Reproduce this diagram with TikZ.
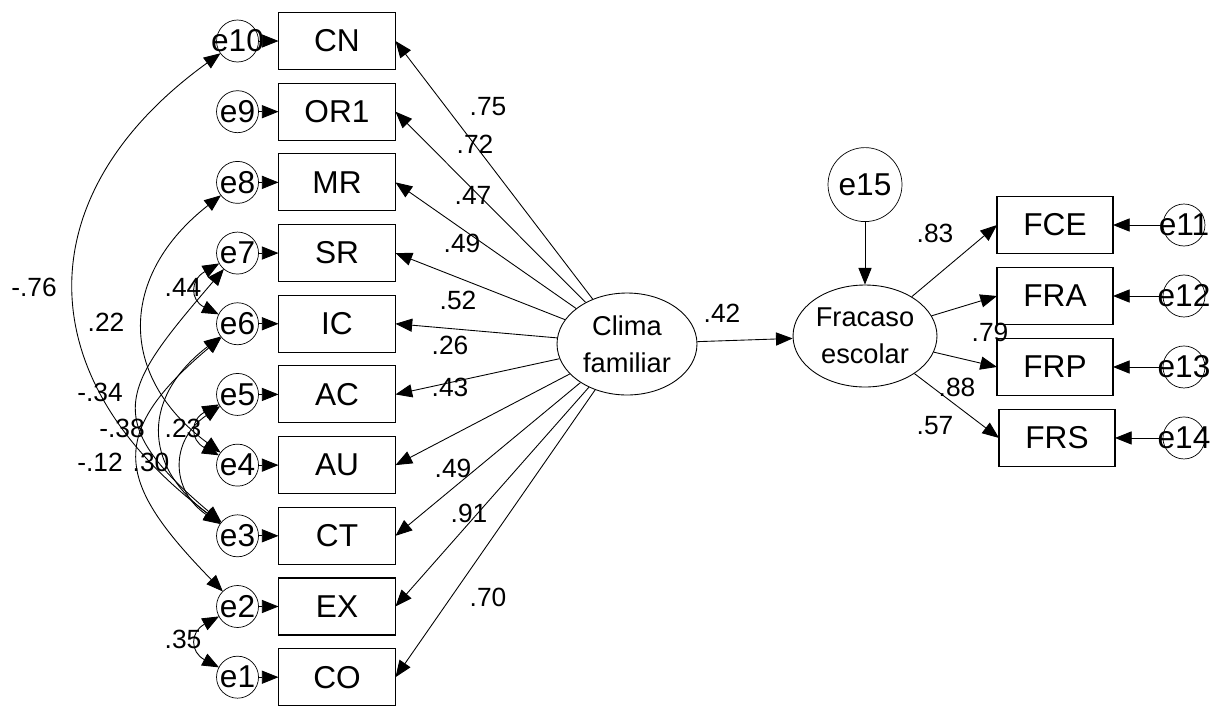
\documentclass[tikz,border=0pt]{standalone}
\usepackage{fontspec}
\setmainfont{Liberation Sans}
\usetikzlibrary{positioning,shapes.geometric,arrows.meta}
\tikzstyle{block} = [rectangle, draw, line width=0.6pt, minimum width=2.34cm,
  minimum height=1.14cm, inner sep=0pt, outer sep=0pt, font=\fontsize{18}{20}\selectfont]
\tikzstyle{error} = [circle, draw, line width=0.4pt, minimum size=0.84cm,
  inner sep=0pt, outer sep=0pt]
\tikzstyle{latent} = [ellipse, draw, line width=0.5pt, inner sep=0pt,
  align=center, font=\fontsize{15.5}{21}\selectfont]
\tikzstyle{coef} = [inner sep=0pt, font=\fontsize{15}{17}\selectfont]
\tikzstyle{line} = [draw, line width=0.5pt, -{Triangle[length=9.5pt,width=7.5pt]}]
\tikzstyle{cov} = [draw, line width=0.5pt,
  {Triangle[length=9.5pt,width=7.5pt]}-{Triangle[length=9.5pt,width=7.5pt]}]
\begin{document}
\begin{tikzpicture}[x=0.02cm, y=-0.02cm,
  every label/.style={inner sep=0pt, font=\fontsize{18}{20}\selectfont}]

  \useasboundingbox (0,0) rectangle (1230,707);

  %%%%%%%%%%%%%%%%%%%%%%%%%%%%%%%%%%%%%%%%%%%%%%%%%%%%%%%%%%%%%%
  %                   CLIMA FAMILIAR                           %
  %%%%%%%%%%%%%%%%%%%%%%%%%%%%%%%%%%%%%%%%%%%%%%%%%%%%%%%%%%%%%%

  \node [block] at (337,41) (cn) {CN};
  \node [block, below = 0.274cm of cn] (or1) {OR1};
  \node [block, below = 0.274cm of or1] (mr) {MR};
  \node [block, below = 0.274cm of mr] (sr) {SR};
  \node [block, below = 0.274cm of sr] (ic) {IC};
  \node [block, below = 0.274cm of ic] (ac) {AC};
  \node [block, below = 0.274cm of ac] (au) {AU};
  \node [block, below = 0.274cm of au] (ct) {CT};
  \node [block, below = 0.274cm of ct] (ex) {EX};
  \node [block, below = 0.274cm of ex] (co) {CO};

  \node [error, left = 0.4cm of cn, label={center:e10}] (e10) {};
  \node [error, left = 0.4cm of or1, label={center:e9}] (e9) {};
  \node [error, left = 0.4cm of mr, label={center:e8}] (e8) {};
  \node [error, left = 0.4cm of sr, label={center:e7}] (e7) {};
  \node [error, left = 0.4cm of ic, label={center:e6}] (e6) {};
  \node [error, left = 0.4cm of ac, label={center:e5}] (e5) {};
  \node [error, left = 0.4cm of au, label={center:e4}] (e4) {};
  \node [error, left = 0.4cm of ct, label={center:e3}] (e3) {};
  \node [error, left = 0.4cm of ex, label={center:e2}] (e2) {};
  \node [error, left = 0.4cm of co, label={center:e1}] (e1) {};

  \draw[line] (e10) -- (cn);
  \draw[line] (e9) -- (or1);
  \draw[line] (e8) -- (mr);
  \draw[line] (e7) -- (sr);
  \draw[line] (e6) -- (ic);
  \draw[line] (e5) -- (ac);
  \draw[line] (e4) -- (au);
  \draw[line] (e3) -- (ct);
  \draw[line] (e2) -- (ex);
  \draw[line] (e1) -- (co);

  \node [latent, minimum width=2.8cm, minimum height=2.04cm] at (627,344) (clima) {Clima\\familiar};

  \draw[line] (clima) -- (cn.east);
  \draw[line] (clima) -- (or1.east);
  \draw[line] (clima) -- (mr.east);
  \draw[line] (clima) -- (sr.east);
  \draw[line] (clima) -- (ic.east);
  \draw[line] (clima) -- (ac.east);
  \draw[line] (clima) -- (au.east);
  \draw[line] (clima) -- (ct.east);
  \draw[line] (clima) -- (ex.east);
  \draw[line] (clima) -- (co.east);

  \node [coef] at (488,107) (w-cn) {.75};
  \node [coef] at (475,144) (w-or1) {.72};
  \node [coef] at (473,195) (w-mr) {.47};
  \node [coef] at (462,243) (w-sr) {.49};
  \node [coef] at (458,300) (w-ic) {.52};
  \node [coef] at (450,345) (w-ac) {.26};
  \node [coef] at (450,387) (w-au) {.43};
  \node [coef] at (453,468) (w-ct) {.49};
  \node [coef] at (469,513) (w-ex) {.91};
  \node [coef] at (488,597) (w-co) {.70};

  %%%%%%%%%%%%%%%%%%%%%%%%%%%%%%%%%%%%%%%%%%%%%%%%%%%%%%%%%%%%%%
  %                   COVARIANCES                              %
  %%%%%%%%%%%%%%%%%%%%%%%%%%%%%%%%%%%%%%%%%%%%%%%%%%%%%%%%%%%%%%

  \draw[cov] (e10) .. controls (27,193) and (26,377) .. (e3);
  \draw[cov] (e8) .. controls (119,275) and (117,376) .. (e4);
  \draw[cov] (e7) .. controls (122,388) and (99,419) .. (e3);
  \draw[cov] (e6) .. controls (105,435) and (117,483) .. (e2);
  \draw[cov] (e6) .. controls (143,396) and (141,464) .. (e3);
  \draw[cov] (e5) .. controls (170,440) and (170,490) .. (e3);
  \draw[cov] (e7) .. controls (190,280) and (190,300) .. (e6);
  \draw[cov] (e5) .. controls (190,420) and (190,440) .. (e4);
  \draw[cov] (e2) .. controls (190,632) and (190,652) .. (e1);

  \node [coef] at (34,287) (c-e10-e3) {-.76};
  \node [coef] at (106,322) (c-e8-e4) {.22};
  \node [coef] at (183,287) (c-e7-e6) {.44};
  \node [coef] at (100,392) (c-e7-e3) {-.34};
  \node [coef] at (122,428) (c-e6-e2) {-.38};
  \node [coef] at (183,428) (c-e5-e4) {.23};
  \node [coef] at (100,462) (c-e6-e3) {-.12};
  \node [coef] at (151,462) (c-e5-e3) {.30};
  \node [coef] at (183,639) (c-e2-e1) {.35};

  %%%%%%%%%%%%%%%%%%%%%%%%%%%%%%%%%%%%%%%%%%%%%%%%%%%%%%%%%%%%%%
  %                   FRACASO ESCOLAR                          %
  %%%%%%%%%%%%%%%%%%%%%%%%%%%%%%%%%%%%%%%%%%%%%%%%%%%%%%%%%%%%%%

  \node [latent, minimum width=2.88cm, minimum height=2.04cm] at (865,336) (fracaso) {Fracaso\\escolar};
  \node [error, minimum size=1.48cm, above = 1.26cm of fracaso, label={center:e15}] (e15) {};

  \draw[line] (clima) -- (fracaso);
  \draw[line] (e15) -- (fracaso);
  \node [coef] at (722,313) (w-fracaso) {.42};

  \node [block, minimum width=2.32cm] at (1055,225) (fce) {FCE};
  \node [block, minimum width=2.32cm, below = 0.28cm of fce] (fra) {FRA};
  \node [block, minimum width=2.32cm, below = 0.28cm of fra] (frp) {FRP};
  \node [block, minimum width=2.32cm, below = 0.28cm of frp, xshift=0.04cm] (frs) {FRS};

  \node [error, right = 1.0cm of fce, label={center:e11}] (e11) {};
  \node [error, right = 1.0cm of fra, label={center:e12}] (e12) {};
  \node [error, right = 1.0cm of frp, label={center:e13}] (e13) {};
  \node [error, right = 0.96cm of frs, label={center:e14}] (e14) {};

  \draw[line] (fracaso) -- (fce.west);
  \draw[line] (fracaso) -- (fra.west);
  \draw[line] (fracaso) -- (frp.west);
  \draw[line] (fracaso) -- (frs.west);

  \draw[line] (e11) -- (fce);
  \draw[line] (e12) -- (fra);
  \draw[line] (e13) -- (frp);
  \draw[line] (e14) -- (frs);

  \node [coef] at (935,233) (w-fce) {.83};
  \node [coef] at (990,332) (w-fra) {.79};
  \node [coef] at (957,387) (w-frp) {.88};
  \node [coef] at (935,426) (w-frs) {.57};

\end{tikzpicture}
\end{document}
